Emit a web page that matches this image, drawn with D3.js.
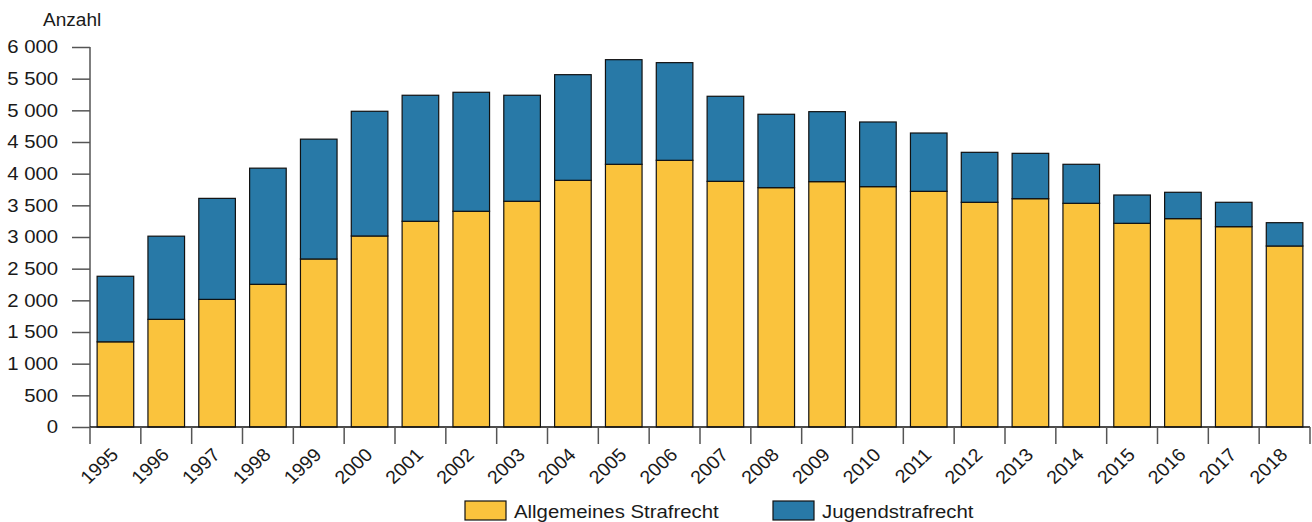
<!DOCTYPE html>
<html lang="de">
<head>
<meta charset="utf-8">
<script src="https://cdn.jsdelivr.net/npm/d3@7"></script>
<style>
  html, body { margin: 0; padding: 0; background: #fff; }
  svg { display: block; font-family: "Liberation Sans", Arial, sans-serif; }
</style>
</head>
<body>
<svg id="chart" width="1312" height="522"></svg>
<script>
// Verurteilte nach angewandtem Strafrecht, 1995–2018
const years = ["1995","1996","1997","1998","1999","2000","2001","2002","2003","2004","2005","2006",
               "2007","2008","2009","2010","2011","2012","2013","2014","2015","2016","2017","2018"];
const allgemeines = [1345, 1700, 2015, 2253, 2653, 3016, 3248, 3406, 3564, 3895, 4148, 4211,
                     3879, 3779, 3874, 3795, 3721, 3548, 3605, 3532, 3216, 3290, 3163, 2858];
const jugend = [1035, 1313, 1595, 1834, 1892, 1969, 1990, 1879, 1674, 1668, 1652, 1542,
                1343, 1159, 1105, 1021, 921, 789, 716, 616, 447, 416, 385, 368];
const yTicks = [0, 500, 1000, 1500, 2000, 2500, 3000, 3500, 4000, 4500, 5000, 5500, 6000];
const seriesNames = ["Allgemeines Strafrecht", "Jugendstrafrecht"];
const seriesColors = ["#FAC33D", "#2879A7"];

const svg = d3.select("#chart");
const plotLeft = 90, plotRight = 1310, plotTop = 47, plotBottom = 427;
const fontSize = 18.5;
const textColor = "#1a1a1a";

const rows = years.map((y, i) => ({ year: y, allg: allgemeines[i], jug: jugend[i] }));
const stack = d3.stack().keys(["allg", "jug"])(rows);

const xTicksScale = d3.scaleBand().domain(years).range([plotLeft, plotRight]).padding(0);
const x = d3.scaleBand().domain(years).range([plotLeft, plotRight]).paddingInner(0.28).paddingOuter(0.14);
const y = d3.scaleLinear().domain([0, 6000]).range([plotBottom, plotTop]);

const de = d3.formatLocale({ decimal: ",", thousands: "\u00a0", grouping: [3], currency: ["", " €"] });
const fmt = de.format(",d");

// Bars
svg.append("g").selectAll("g")
  .data(stack)
  .join("g")
  .attr("fill", (d, i) => seriesColors[i])
  .selectAll("rect")
  .data(d => d)
  .join("rect")
  .attr("x", d => x(d.data.year))
  .attr("width", x.bandwidth())
  .attr("y", d => y(d[1]))
  .attr("height", d => y(d[0]) - y(d[1]))
  .attr("stroke", "#111")
  .attr("stroke-width", 1.2);

// Y axis
const yAxis = svg.append("g")
  .attr("transform", `translate(${plotLeft},0)`)
  .call(d3.axisLeft(y).tickValues(yTicks).tickFormat(fmt).tickSize(18).tickPadding(11));
yAxis.select(".domain").attr("stroke", "#555").attr("stroke-width", 1.5).attr("d", `M0,${plotTop}V${plotBottom}`);
yAxis.selectAll(".tick line").attr("stroke", "#555").attr("stroke-width", 1.5);
yAxis.selectAll(".tick text")
  .attr("font-size", fontSize).attr("fill", textColor)
  .attr("font-family", "Liberation Sans, Arial, sans-serif")
  .attr("transform", "scale(1.1,1)");

// X axis: ticks at category boundaries
const xAxis = svg.append("g").attr("transform", `translate(0,${plotBottom})`);
xAxis.append("line")
  .attr("x1", plotLeft).attr("x2", plotRight).attr("y1", 0).attr("y2", 0)
  .attr("stroke", "#111").attr("stroke-width", 1.5);
const bounds = years.map(d => xTicksScale(d)).concat([plotRight]);
xAxis.selectAll("line.tk")
  .data(bounds)
  .join("line")
  .attr("class", "tk")
  .attr("x1", d => d).attr("x2", d => d)
  .attr("y1", 0).attr("y2", 17)
  .attr("stroke", "#555").attr("stroke-width", 1.5);
xAxis.selectAll("text")
  .data(years)
  .join("text")
  .attr("transform", d => `translate(${xTicksScale(d) + xTicksScale.bandwidth() / 2 + 4},29) scale(1.06,1) rotate(-45)`)
  .attr("text-anchor", "end")
  .attr("font-size", fontSize)
  .attr("fill", textColor)
  .text(d => d);

// Axis title
svg.append("text")
  .attr("transform", "translate(43,26) scale(1.03,1)")
  .attr("font-size", fontSize)
  .attr("fill", textColor)
  .text("Anzahl");

// Legend
const legendX = [465, 773];
const legend = svg.append("g");
seriesNames.forEach((name, i) => {
  legend.append("rect")
    .attr("x", legendX[i]).attr("y", 501)
    .attr("width", 41).attr("height", 19)
    .attr("fill", seriesColors[i])
    .attr("stroke", "#111").attr("stroke-width", 1.2);
  legend.append("text")
    .attr("transform", `translate(${legendX[i] + 49},518) scale(1.1,1)`)
    .attr("font-size", fontSize)
    .attr("fill", textColor)
    .text(name);
});
</script>
</body>
</html>
